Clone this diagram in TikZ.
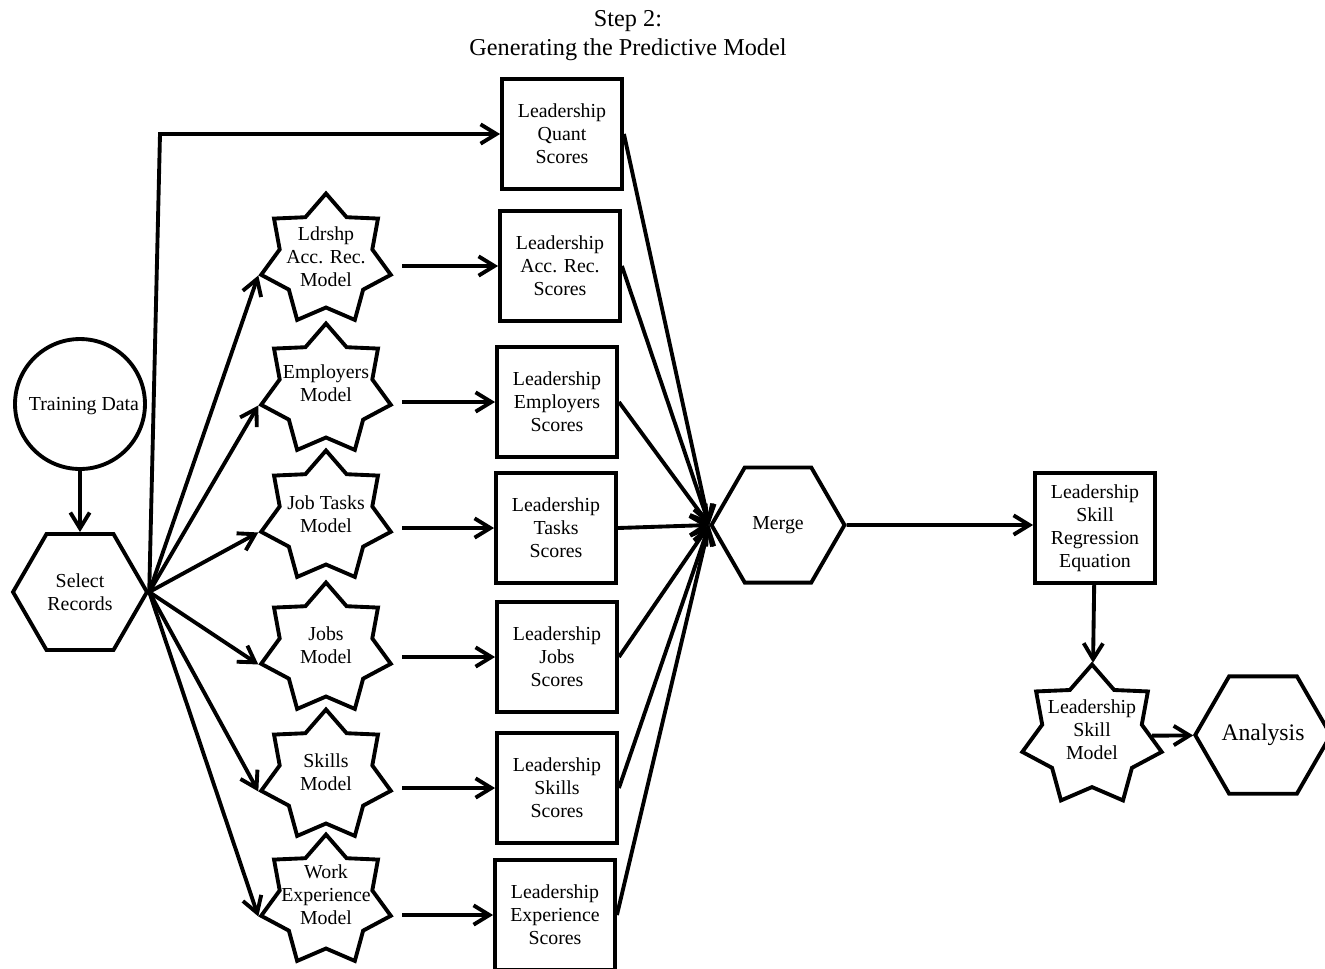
\documentclass[tikz,border=0pt]{standalone}
\usepackage{fontspec}
\setmainfont{Liberation Serif}
\usetikzlibrary{shapes.geometric,arrows.meta}
\tikzset{
  every node/.style={font=\fontsize{11.3}{13}\selectfont, align=center},
  box/.style={draw, line width=2.2pt, minimum width=2.4cm, minimum height=2.2cm, inner sep=0pt},
  hexa/.style={draw, line width=2.2pt, regular polygon, regular polygon sides=6, minimum size=2.68cm, inner sep=0pt},
  starnode/.style={draw, line width=2.2pt, star, star points=7, star point ratio=1.4, minimum size=2.66cm, inner sep=0pt},
  flow/.style={line width=2.2pt, -{Straight Barb[length=9pt,width=11pt]}},
}
\begin{document}
\begin{tikzpicture}[x=0.02cm, y=-0.02cm]
      \useasboundingbox (0,0) rectangle (1325,968);
      \node[font=\fontsize{13.8}{16.5}\selectfont] (title) at (628,36) {Step 2:\\Generating the Predictive Model};
      \node[draw, circle, line width=2.2pt, minimum size=2.6cm, inner sep=0pt] (td) at (80,404) {};
      \node (tdt) at (84,406) {Training Data};
      \node[hexa] (sr) at (80,592) {Select\\Records};
      \node[starnode] (s1) at (326,260) {};
      \node[starnode] (s2) at (326,390) {};
      \node[starnode] (s3) at (326,517) {};
      \node[starnode] (s4) at (326,649) {};
      \node[starnode] (s5) at (326,776) {};
      \node[starnode] (s6) at (326,901) {};
      \node (s1t) at (326,257) {Ldrshp\\Acc. Rec.\\Model};
      \node (s2t) at (326,383) {Employers\\Model};
      \node (s3t) at (326,514) {Job Tasks\\Model};
      \node (s4t) at (326,645) {Jobs\\Model};
      \node (s5t) at (326,772) {Skills\\Model};
      \node (s6t) at (326,895) {Work\\Experience\\Model};
      \node[box] (b0) at (562,134) {Leadership\\Quant\\Scores};
      \node[box] (b1) at (560,266) {Leadership\\Acc. Rec.\\Scores};
      \node[box] (b2) at (557,402) {Leadership\\Employers\\Scores};
      \node[box] (b3) at (556,528) {Leadership\\Tasks\\Scores};
      \node[box] (b4) at (557,657) {Leadership\\Jobs\\Scores};
      \node[box] (b5) at (557,788) {Leadership\\Skills\\Scores};
      \node[box] (b6) at (555,915) {Leadership\\Experience\\Scores};
      \node[hexa, minimum size=2.66cm] (mg) at (778,525) {Merge};
      \node[box] (reg) at (1095,528) {Leadership\\Skill\\Regression\\Equation};
      \node[starnode, minimum size=2.86cm] (lsm) at (1092,736) {};
      \node (lsmt) at (1092,730) {Leadership\\Skill\\Model};
      \node[hexa, minimum size=2.6cm, font=\fontsize{13.5}{16}\selectfont] (an) at (1263,735) {Analysis};
      \coordinate (bend) at (160,134);
      \begin{scope}[flow]
        \draw (td) -- (sr);
        \draw (sr.east) -- (bend) -- (b0);
        \draw (sr.east) -- (s1.outer point 3);
        \draw (sr.east) -- (s2.outer point 3);
        \draw (sr.east) -- (s3.outer point 3);
        \draw (sr.east) -- (s4.outer point 3);
        \draw (sr.east) -- (s5.outer point 3);
        \draw (sr.east) -- (s6.outer point 3);
        \draw[shorten <=5pt] (s1.outer point 6 |- b1) -- (b1);
        \draw[shorten <=5pt] (s2.outer point 6 |- b2) -- (b2);
        \draw[shorten <=5pt] (s3.outer point 6 |- b3) -- (b3);
        \draw[shorten <=5pt] (s4.outer point 6 |- b4) -- (b4);
        \draw[shorten <=5pt] (s5.outer point 6 |- b5) -- (b5);
        \draw[shorten <=5pt] (s6.outer point 6 |- b6) -- (b6);
        \draw (b0.east) -- (mg.west);
        \draw (b1.east) -- (mg.west);
        \draw (b2.east) -- (mg.west);
        \draw (b3.east) -- (mg.west);
        \draw (b4.east) -- (mg.west);
        \draw (b5.east) -- (mg.west);
        \draw (b6.east) -- (mg.west);
        \draw (mg) -- (mg -| reg.west);
        \draw (reg) -- (lsm);
        \draw (lsm) -- (an);
      \end{scope}
    \end{tikzpicture}
\end{document}
